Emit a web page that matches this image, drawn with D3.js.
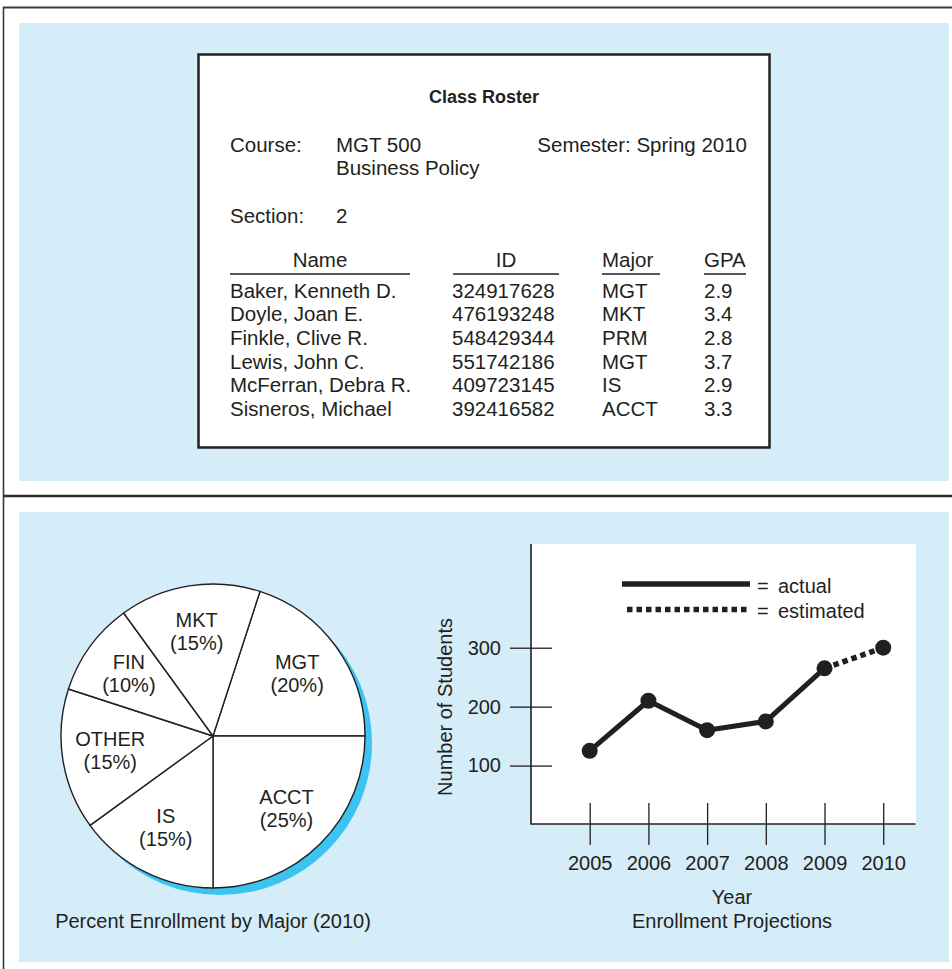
<!DOCTYPE html>
<html>
<head>
<meta charset="utf-8">
<script src="https://cdn.jsdelivr.net/npm/d3@7"></script>
<style>
  html, body { margin: 0; padding: 0; background: #fff; }
  svg { display: block; font-family: "Liberation Sans", Arial, Helvetica, sans-serif; }
</style>
</head>
<body>
<div id="chart"></div>
<script>
// roster
const rosterNames = ["Baker, Kenneth D.", "Doyle, Joan E.", "Finkle, Clive R.", "Lewis, John C.", "McFerran, Debra R.", "Sisneros, Michael"];
const rosterIds = ["324917628", "476193248", "548429344", "551742186", "409723145", "392416582"];
const rosterMajors = ["MGT", "MKT", "PRM", "MGT", "IS", "ACCT"];
const rosterGpas = ["2.9", "3.4", "2.8", "3.7", "2.9", "3.3"];

// pie (clockwise from MGT)
const majors = ["MGT", "ACCT", "IS", "OTHER", "FIN", "MKT"];
const majorShares = [20, 25, 15, 15, 10, 15];

// enrollment
const actualYears = [2005, 2006, 2007, 2008, 2009];
const actualStudents = [125, 210, 160, 175, 265];
const estimatedYears = [2009, 2010];
const estimatedStudents = [265, 300];
const yearTicks = [2005, 2006, 2007, 2008, 2009, 2010];
const studentTicks = [100, 200, 300];

const W = 952, H = 969;
const ink = "#231f20";
const panelBlue = "#d5ecf9";
const shadowBlue = "#3cc3f0";

const svg = d3.select("#chart").append("svg").attr("width", W).attr("height", H);

// outer frame + panels
svg.append("rect").attr("x", 19).attr("y", 23).attr("width", 930).attr("height", 458).attr("fill", panelBlue);
svg.append("rect").attr("x", 19).attr("y", 512).attr("width", 930).attr("height", 450).attr("fill", panelBlue);
svg.append("line").attr("x1", 3).attr("x2", W).attr("y1", 7.5).attr("y2", 7.5).attr("stroke", "#3a3a3a").attr("stroke-width", 2);
svg.append("line").attr("x1", 3.5).attr("x2", 3.5).attr("y1", 7).attr("y2", H).attr("stroke", "#3a3a3a").attr("stroke-width", 1.6);
svg.append("line").attr("x1", 3).attr("x2", W).attr("y1", 496).attr("y2", 496).attr("stroke", "#2b2b2b").attr("stroke-width", 2.4);

// ---------- class roster ----------
const roster = svg.append("g").attr("fill", ink).attr("font-size", 20.5);
roster.append("rect").attr("x", 198.5).attr("y", 54.5).attr("width", 571).attr("height", 393)
  .attr("fill", "#fff").attr("stroke", ink).attr("stroke-width", 2.5);
roster.append("text").attr("x", 484).attr("y", 103).attr("text-anchor", "middle")
  .attr("font-weight", "bold").attr("font-size", 18).text("Class Roster");
roster.append("text").attr("x", 230).attr("y", 152).text("Course:");
roster.append("text").attr("x", 336).attr("y", 152).text("MGT 500");
roster.append("text").attr("x", 336).attr("y", 175).text("Business Policy");
roster.append("text").attr("x", 747).attr("y", 152).attr("text-anchor", "end").text("Semester: Spring 2010");
roster.append("text").attr("x", 230).attr("y", 223).text("Section:");
roster.append("text").attr("x", 336).attr("y", 223).text("2");

const columns = [
  { head: "Name", x0: 230, x1: 410, anchor: "middle", values: rosterNames, tx: 230 },
  { head: "ID", x0: 453, x1: 559, anchor: "middle", values: rosterIds, tx: 452 },
  { head: "Major", x0: 602, x1: 660, anchor: "start", values: rosterMajors, tx: 602 },
  { head: "GPA", x0: 704, x1: 746, anchor: "start", values: rosterGpas, tx: 704 },
];
const rowY = d3.scalePoint().domain(d3.range(rosterNames.length)).range([297.5, 416]);

columns.forEach((col) => {
  roster.append("text")
    .attr("x", col.anchor === "middle" ? (col.x0 + col.x1) / 2 : col.x0)
    .attr("y", 267)
    .attr("text-anchor", col.anchor)
    .text(col.head);
  roster.append("line").attr("x1", col.x0).attr("x2", col.x1).attr("y1", 274).attr("y2", 274)
    .attr("stroke", ink).attr("stroke-width", 1.5);
  roster.append("g").selectAll("text").data(col.values).enter().append("text")
    .attr("x", col.tx)
    .attr("y", (d, i) => rowY(i))
    .text((d) => d);
});

// ---------- pie ----------
const pieCx = 213, pieCy = 736, pieR = 152;
const pieG = svg.append("g").attr("transform", `translate(${pieCx},${pieCy})`);
pieG.append("circle").attr("cx", 7).attr("cy", 7).attr("r", pieR).attr("fill", shadowBlue);

const startA = Math.PI / 10;
const pie = d3.pie().sort(null).startAngle(startA).endAngle(startA + 2 * Math.PI);
const arcs = pie(majorShares);
const arc = d3.arc().innerRadius(0).outerRadius(pieR);
const labelArc = d3.arc().innerRadius(104).outerRadius(104);

pieG.selectAll("path").data(arcs).enter().append("path")
  .attr("d", arc).attr("fill", "#fff").attr("stroke", ink).attr("stroke-width", 1.4).attr("stroke-linejoin", "round");

const labels = pieG.selectAll("text.lab").data(arcs).enter().append("text")
  .attr("class", "lab").attr("text-anchor", "middle").attr("font-size", 20).attr("fill", ink)
  .attr("transform", (d) => { const [x, y] = labelArc.centroid(d); return `translate(${x},${y})`; });
labels.append("tspan").attr("x", 0).attr("y", -6).text((d, i) => majors[i]);
labels.append("tspan").attr("x", 0).attr("y", 17).text((d) => `(${d.data}%)`);

svg.append("text").attr("x", pieCx).attr("y", 928).attr("text-anchor", "middle")
  .attr("font-size", 20).attr("fill", ink).text("Percent Enrollment by Major (2010)");

// ---------- enrollment line chart ----------
const x = d3.scaleLinear().domain([2004, 2010.55]).range([531, 915.5]);
const y = d3.scaleLinear().domain([0, 476]).range([824.5, 544]);

svg.append("rect").attr("x", 531).attr("y", 544).attr("width", 385).attr("height", 280.5).attr("fill", "#fff");

const tickStyle = (g) => {
  g.select(".domain").remove();
  g.selectAll(".tick line").attr("stroke", ink).attr("stroke-width", 1.3);
  g.selectAll(".tick text").attr("fill", ink).attr("font-size", 20).attr("font-family", "Liberation Sans, Arial, sans-serif");
};

svg.append("g").attr("transform", "translate(531,0)")
  .call(d3.axisLeft(y).tickValues(studentTicks).tickSize(21).tickPadding(9)).call(tickStyle);
svg.append("g").attr("transform", "translate(531,0)")
  .call(d3.axisRight(y).tickValues(studentTicks).tickSize(21).tickFormat("")).call(tickStyle);
svg.append("g").attr("transform", "translate(0,824)")
  .call(d3.axisBottom(x).tickValues(yearTicks).tickSize(21).tickPadding(11).tickFormat(d3.format("d"))).call(tickStyle);
svg.append("g").attr("transform", "translate(0,824)")
  .call(d3.axisTop(x).tickValues(yearTicks).tickSize(21).tickFormat("")).call(tickStyle);

// axis lines
svg.append("line").attr("x1", 531).attr("x2", 531).attr("y1", y.range()[1]).attr("y2", 824.5)
  .attr("stroke", ink).attr("stroke-width", 1.6);
svg.append("line").attr("x1", 531).attr("x2", 915.5).attr("y1", 824).attr("y2", 824)
  .attr("stroke", ink).attr("stroke-width", 1.6);

const line = d3.line().x((d) => x(d[0])).y((d) => y(d[1]));
svg.append("path").datum(d3.zip(estimatedYears, estimatedStudents)).attr("d", line)
  .attr("fill", "none").attr("stroke", ink).attr("stroke-width", 5.5).attr("stroke-dasharray", "5.5,4");
svg.append("path").datum(d3.zip(actualYears, actualStudents)).attr("d", line)
  .attr("fill", "none").attr("stroke", ink).attr("stroke-width", 5).attr("stroke-linejoin", "round");

const points = d3.zip(actualYears, actualStudents).concat(d3.zip(estimatedYears, estimatedStudents).slice(1));
svg.append("g").selectAll("circle").data(points).enter().append("circle")
  .attr("cx", (d) => x(d[0])).attr("cy", (d) => y(d[1])).attr("r", 8).attr("fill", ink);

// legend
const legend = svg.append("g").attr("fill", ink).attr("font-size", 20);
legend.append("line").attr("x1", 622).attr("x2", 750).attr("y1", 584).attr("y2", 584)
  .attr("stroke", ink).attr("stroke-width", 5.3);
legend.append("line").attr("x1", 627).attr("x2", 750).attr("y1", 609.5).attr("y2", 609.5)
  .attr("stroke", ink).attr("stroke-width", 5.3).attr("stroke-dasharray", "5.5,4");
legend.append("text").attr("x", 757).attr("y", 593).text("=");
legend.append("text").attr("x", 778).attr("y", 593).text("actual");
legend.append("text").attr("x", 757).attr("y", 618).text("=");
legend.append("text").attr("x", 778).attr("y", 618).text("estimated");

// axis titles
svg.append("text").attr("transform", "translate(452,707) rotate(-90)").attr("text-anchor", "middle")
  .attr("font-size", 20).attr("fill", ink).text("Number of Students");
svg.append("text").attr("x", 732).attr("y", 904).attr("text-anchor", "middle")
  .attr("font-size", 20).attr("fill", ink).text("Year");
svg.append("text").attr("x", 732).attr("y", 928).attr("text-anchor", "middle")
  .attr("font-size", 20).attr("fill", ink).text("Enrollment Projections");
</script>
</body>
</html>
